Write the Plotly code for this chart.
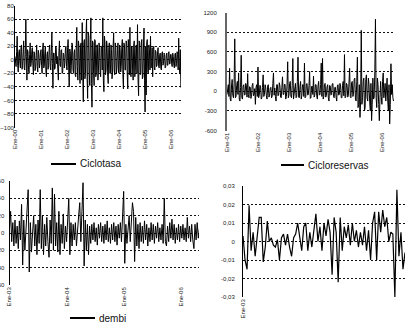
import plotly.graph_objects as go
import numpy as np

# ---------------- DATA ----------------
# Ciclotasa: weekly-ish (48 per year), from Jan 2000
ciclotasa = [
    5, -6, -10, 12, 35, -8, -18, 10, 15, -5, -12, 18, 22, -14, -8, 10, 28, -12, -15, 8, 60, 5, -30, 15,
    12, -15, -20, 8, 25, -10, -5, 14, 18, -8, -22, 12, 10, -16, -12, 6, 22, -10, -18, 14, 8, -12, -6, 10,
    15, -8, -20, 16, 25, -12, -10, 10, 20, -18, -25, 8, 12, -14, -8, 15, 22, -10, -15, 12, 40, -5, -42, 10,
    10, -14, -12, 20, 18, -6, 5, -15, -30, 12, 28, -8, -10, 14, 15, -20, -18, 10, 8, -12, -5, 16, 20, -10,
    -15, 18, 30, -12, -40, 16, 12, -20, -8, 25, 22, -15, -20, 10, 15, -22, -25, 20, 48, -10, -30, 28, 20, -18,
    -35, 22, 25, -30, 55, -20, -62, 25, 30, -28, -20, 35, 60, -25, -57, 40, 35, -20, -38, 30, 62, -35, -70, 28,
    25, -20, -38, 30, 28, -25, -20, 22, 22, -30, -15, 25, 18, -18, -25, 20, 20, -15, 62, -30, -47, 35, 25, -22,
    -15, 28, 20, -25, -35, 18, 25, -20, -20, 22, 15, -28, -18, 20, 40, -15, -22, 25, 18, -20, -12, 15, 25, -18,
    -20, 22, 15, -18, -10, 20, 30, -22, -43, 25, 20, -15, -15, 28, 25, -20, -43, 30, 18, -22, 48, -18, -25, 20,
    20, -18, -30, 22, 28, -25, -15, 20, 22, -20, 52, -30, -53, 28, 25, -22, -20, 25, 30, -28, -25, 20, 47, -30,
    -77, 20, -52, 25, 30, -18, -20, 22, 15, -15, 35, -12, -10, 18, -25, 15, 20, -12, -15, 14, 12, -10, -8, 12,
    18, -10, -12, 8, 10, -12, -15, 10, 12, -8, -5, 10, 8, -12, -10, 6, 10, -8, -8, 10, 12, -6, -6, 8,
    8, -6, -10, 10, 5, -8, -12, 8, 10, -10, -5, 12, 8, -15, 32, -10, -20, 15, -41,
]
ciclotasa_start = 2000

# Cicloreservas: weekly-ish (48 per year), from Jan 2001
cicloreservas = [
    -50, 60, 100, -80, 350, -120, -150, 80, 180, -60, -100, 120, 800, -100, -80, 90, 150, -50, 280, -120, -150, 60, 550, -100,
    -120, 80, 100, -60, -50, 120, 80, -90, 270, -50, -100, 70, 60, -110, -80, 90, 120, -70, -50, 40, -200, 60, 100, -80,
    370, -100, -60, 90, 80, -120, -100, 60, 250, -80, -50, 100, 50, -70, -120, 80, 100, -90, -60, 50, 60, -100, -80, 120,
    280, -60, 50, -80, -150, 100, 100, -70, -60, 130, 80, -90, -100, 60, 220, -50, -50, 110, 100, -120, -80, 90, 450, -100,
    -60, 120, 150, -80, -100, 90, 500, -120, -50, 80, 120, -100, -80, 150, 520, -90, -100, 70, 150, -120, -60, 100, 100, -80,
    430, -100, -80, 110, 120, -60, -50, 90, 300, -110, -100, 70, 80, -50, 230, -90, -60, 100, 100, -70, -120, 80, 150, -60,
    -50, 100, 430, -80, 500, -120, -80, 100, 120, -90, -60, 70, 100, -100, -150, 90, 80, -60, -50, 110, 120, -80, -100, 60,
    60, -90, -150, 80, 100, -60, -50, 120, 80, -100, -100, 90, 150, -70, 560, -100, -80, 120, 100, -90, -60, 140, 350, -80,
    -100, 130, 150, -80, -50, 180, 200, -120, -150, 150, 520, -250, -200, 100, -400, -150, 930, -200, -100, 150, 200, -300, -250, 180,
    250, -100, -150, 200, 100, -150, -300, 120, -450, -200, 200, -120, -100, 300, 1100, -100, -250, 200, 100, -200, -450, -100, 150, -80,
    -200, 150, 280, -100, 50, 120, -150, 200, 200, -150, -300, 100, -500, -200, 420, -50, 100, -100, -150,
]
cicloreservas_start = 2001

# dembi: weekly, from Jan 2003
dembi = [
    5, 25, -10, 12, -15, 15, -12, 8, -18, 14, -8, 33,
    -37, 15, -20, 10, 30, 50, -45, 12, -22, 8, 20, -15,
    10, -25, 15, -12, 50, -18, 20, -25, 10, -15, 18, -10,
    -28, 15, -12, 52, -20, 45, -15, 12, -22, 25, -25, 10,
    -12, 22, -18, 8, -10, 15, 40, -25, 12, -15, 10, -8,
    12, -15, 8, 20, 35, -10, 25, 58, -38, 15, -20, 10,
    -25, 8, -12, 10, -8, 12, -10, 6, -14, 10, -6, 12,
    -10, 8, -12, 10, -8, 14, -10, 6, -12, 10, -8, 12,
    -10, 8, -14, 10, -6, 12, -10, 15, 48, -35, 10, -12,
    8, 20, -10, 15, 35, 25, -33, 18, -15, 10, -18, 12,
    -10, 8, -12, 14, -8, 10, -15, 6, -10, 12, -8, 10,
    -12, 8, -6, 12, -10, 6, -8, 10, -12, 40, -10, -15,
    8, -10, 12, -6, 16, -8, 10, -12, 6, -8, 10, -10,
    8, -6, 10, -8, 6, -10, 18, -6, 8, -10, 10, -8,
    -18, 10, -8, 12, -6, 5,
]
dembi_start = 2003

# fourth series (no legend), from Jan 2003
serie4 = [
    0.003, -0.010, -0.015, 0.0196, -0.005, 0.005, -0.008, 0.003, 0.013, 0.013,
    -0.011, -0.003, 0.011, 0.000, 0.002, -0.002, -0.003, 0.001, -0.010, 0.002,
    0.004, -0.002, 0.004, -0.003, -0.008, 0.002, 0.004, 0.010, 0.003, -0.005,
    0.008, 0.010, -0.005, 0.005, -0.003, 0.006, 0.015, 0.000, 0.008, -0.005,
    0.010, 0.003, 0.012, 0.005, -0.018, 0.013, 0.005, -0.022, 0.013, -0.005,
    0.008, 0.002, 0.009, -0.002, 0.010, 0.000, 0.006, -0.003, 0.005, -0.002,
    0.008, -0.005, 0.006, -0.010, 0.010, 0.016, -0.010, 0.016, 0.005, 0.017,
    0.008, 0.013, 0.000, 0.005, 0.004, -0.030, 0.028, -0.008, 0.005, -0.015,
    -0.006,
]

# tick labels
p1_xticks = [2000, 2001, 2002, 2003, 2004, 2005, 2006]
p1_xlabels = ["Ene-00", "Ene-01", "Ene-02", "Ene-03", "Ene-04", "Ene-05", "Ene-06"]
p1_yticks = [80, 60, 40, 20, 0, -20, -40, -60, -80, -100]

p2_xticks = [2001, 2002, 2003, 2004, 2005, 2006]
p2_xlabels = ["Ene-01", "Ene-02", "Ene-03", "Ene-04", "Ene-05", "Ene-06"]
p2_yticks = [1200, 900, 600, 300, 0, -300, -600]
p2_ylabels = ["1200", "900", "600", "300", "0", "-300", "-600"]

p3_xticks = [2003, 2004, 2005, 2006]
p3_xlabels = ["Ene-03", "Ene-04", "Ene-05", "Ene-06"]
p3_yticks = [60, 40, 20, 0, -20, -40, -60]

p4_xticks = [0]
p4_xlabels = ["Ene-03"]
p4_yticks = [0.03, 0.02, 0.01, 0, -0.01, -0.02, -0.03]
p4_ylabels = ["0,03", "0,02", "0,01", "0", "-0,01", "-0,02", "-0,03"]

legend_names = ["Ciclotasa", "Cicloreservas", "dembi"]

# ---------------- FIGURE ----------------
W, H = 412, 327
def px_x(a, b):
    return [a / W, b / W]
def px_y(top, bottom):
    return [1 - bottom / H, 1 - top / H]

t1 = ciclotasa_start + np.arange(len(ciclotasa)) / 48.0
t2 = cicloreservas_start + np.arange(len(cicloreservas)) / 48.0
t3 = dembi_start + np.arange(len(dembi)) / 52.0
t4 = np.arange(len(serie4))

fig = go.Figure()
line_kw = dict(mode="lines", showlegend=False, hoverinfo="skip")
fig.add_trace(go.Scatter(x=t1, y=ciclotasa, xaxis="x", yaxis="y",
                         line=dict(color="black", width=1), **line_kw))
fig.add_trace(go.Scatter(x=t2, y=cicloreservas, xaxis="x2", yaxis="y2",
                         line=dict(color="black", width=1), **line_kw))
fig.add_trace(go.Scatter(x=t3, y=dembi, xaxis="x3", yaxis="y3",
                         line=dict(color="black", width=1), **line_kw))
fig.add_trace(go.Scatter(x=t4, y=serie4, xaxis="x4", yaxis="y4",
                         line=dict(color="black", width=1.2), **line_kw))

tickfont = dict(family="Liberation Sans, Arial, sans-serif", size=6, color="#222")
grid = dict(showgrid=True, gridcolor="#111", gridwidth=1, griddash="2px,2px",
            zeroline=False, ticks="", tickfont=tickfont, automargin=False)
xcommon = dict(showgrid=False, zeroline=False, showline=False, ticks="",
               tickangle=-90, tickfont=tickfont, automargin=False)

fig.update_layout(
    width=W, height=H,
    margin=dict(l=0, r=0, t=0, b=0),
    paper_bgcolor="white", plot_bgcolor="white",
    showlegend=False,
    xaxis=dict(domain=px_x(15, 181), range=[2000, 2006.38], anchor="y",
               tickvals=p1_xticks, ticktext=p1_xlabels, **xcommon),
    yaxis=dict(domain=px_y(5.7, 127.5), range=[-100, 80], anchor="x",
               tickvals=p1_yticks, showline=True, linecolor="black", linewidth=1,
               ticklabelstandoff=-1, **grid),
    xaxis2=dict(domain=px_x(227, 394), range=[2001, 2006.39], anchor="y2",
                tickvals=p2_xticks, ticktext=p2_xlabels, **xcommon),
    yaxis2=dict(domain=px_y(12.7, 130.5), range=[-600, 1200], anchor="x2",
                tickvals=p2_yticks, ticktext=p2_ylabels,
                showline=True, linecolor="#666", linewidth=2,
                ticklabelstandoff=7, **grid),
    xaxis3=dict(domain=px_x(9.5, 199), range=[2003, 2006.32], anchor="y3",
                tickvals=p3_xticks, ticktext=p3_xlabels, **xcommon),
    yaxis3=dict(domain=px_y(181, 285), range=[-60, 60], anchor="x3",
                tickvals=p3_yticks, showline=True, linecolor="black", linewidth=1,
                ticklabelstandoff=3, **grid),
    xaxis4=dict(domain=px_x(243, 405), range=[0, len(serie4) - 1], anchor="y4",
                tickvals=p4_xticks, ticktext=p4_xlabels, **xcommon),
    yaxis4=dict(domain=px_y(186, 297), range=[-0.03, 0.03], anchor="x4",
                tickvals=p4_yticks, ticktext=p4_ylabels,
                showline=True, linecolor="black", linewidth=1,
                ticklabelstandoff=6, **grid),
)

# legends (line sample + text)
legend_pos = [(51, 76, 164), (281, 304, 165), (70, 95, 318)]
legfont = dict(family="Liberation Sans, Arial, sans-serif", size=10, color="#111")
for name, (xa, xb, yy) in zip(legend_names, legend_pos):
    fig.add_shape(type="line", xref="paper", yref="paper",
                  x0=xa / W, x1=xb / W, y0=1 - yy / H, y1=1 - yy / H,
                  line=dict(color="black", width=2))
    fig.add_annotation(xref="paper", yref="paper", x=(xb + 2) / W, y=1 - yy / H,
                       text=name, showarrow=False, xanchor="left", yanchor="middle",
                       font=legfont)

fig.write_html(
    "out.html",
    config={"displayModeBar": False, "staticPlot": True},
    post_script="document.body.style.margin='0';document.body.style.overflow='hidden';",
)
